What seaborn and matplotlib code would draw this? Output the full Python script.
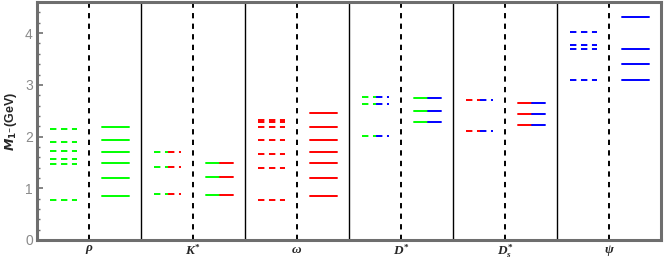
import numpy as np
import pandas as pd
import matplotlib
matplotlib.use("Agg")
import matplotlib.pyplot as plt
import seaborn as sns

# ---- data -------------------------------------------------------------
mesons = [r"$\rho$", r"$K^{*}$", r"$\omega$", r"$D^{*}$", r"$D_{s}^{*}$", r"$\psi$"]
# experimental (dashed, left) and theoretical (solid, right) masses, GeV
rho_exp = [0.775, 1.465, 1.57, 1.72, 1.90, 2.15]
rho_th = [0.85, 1.20, 1.49, 1.71, 1.94, 2.19]
kst_exp = [0.89, 1.41, 1.70]
kst_th = [0.87, 1.22, 1.48]
omega_exp = [0.78, 1.40, 1.66, 1.94, 2.19, 2.28, 2.32]
omega_th = [0.85, 1.20, 1.48, 1.71, 1.94, 2.19, 2.45]
dst_exp = [2.01, 2.62, 2.77]
dst_th = [2.28, 2.50, 2.74]
dsst_exp = [2.11, 2.70]
dsst_th = [2.22, 2.43, 2.65]
psi_exp = [3.097, 3.686, 3.773, 4.03]
psi_th = [3.09, 3.40, 3.69, 4.31]

exp_sets = [rho_exp, kst_exp, omega_exp, dst_exp, dsst_exp, psi_exp]
th_sets = [rho_th, kst_th, omega_th, dst_th, dsst_th, psi_th]
# colour of left half / right half of each level
pair_colors = [("g", "g"), ("g", "r"), ("r", "r"), ("g", "b"), ("r", "b"), ("b", "b")]
palette = {"g": "#00ff00", "r": "#ff0000", "b": "#0000ff"}

# ---- build segments ----------------------------------------------------
rows = []
seg = 0
EXP_X = (0.125, 0.385)
TH_X = (0.625, 0.885)
for i, (ex, th, (c1, c2)) in enumerate(zip(exp_sets, th_sets, pair_colors)):
    for kind, vals, (a, b) in (("exp", ex, EXP_X), ("th", th, TH_X)):
        for v in vals:
            if c1 == c2:
                parts = [(a, b, c1)]
            else:
                m = 0.5 * (a + b)
                parts = [(a, m, c1), (m, b, c2)]
            for (x0, x1, c) in parts:
                rows.append(dict(x=i + x0, y=v, seg=seg, col=c, kind=kind))
                rows.append(dict(x=i + x1, y=v, seg=seg, col=c, kind=kind))
                seg += 1
df = pd.DataFrame(rows)

# ---- style -------------------------------------------------------------
sns.set_theme(style="white")
plt.rcParams["lines.scale_dashes"] = False
plt.rcParams["mathtext.fontset"] = "custom"
plt.rcParams["mathtext.it"] = "Liberation Serif:italic:bold"
plt.rcParams["mathtext.rm"] = "Liberation Serif:bold"
plt.rcParams["mathtext.bf"] = "Liberation Serif:bold"

fig = plt.figure(figsize=(6.64, 2.63), dpi=100)
ax = fig.add_axes([0.0557, 0.0875, 0.9398, 0.9045])

sns.lineplot(data=df, x="x", y="y", units="seg", estimator=None, sort=False,
             hue="col", palette=palette, style="kind",
             dashes={"exp": (4.6, 3.3), "th": ""}, linewidth=1.4,
             legend=False, ax=ax)

n = len(mesons)
for k in range(1, n):
    ax.axvline(k, color="black", lw=1.0, zorder=1)
for k in range(n):
    ax.axvline(k + 0.5, color="black", lw=1.4, ls=(0, (3.8, 3.8)), zorder=1)

ax.set_xlim(0, n)
ax.set_ylim(0, 4.6)
ax.set_xticks(np.arange(n) + 0.5)
ax.set_xticklabels(mesons, fontsize=9.5)
ax.set_yticks([0, 1, 2, 3, 4])
ax.set_yticks(np.arange(0, 4.6, 0.2), minor=True)
ax.tick_params(axis="y", which="major", direction="in", length=4, width=1.2,
               color="#6e6e6e", labelsize=10, labelcolor="#8a8a8a", pad=3,
               left=True)
ax.tick_params(axis="y", which="minor", direction="in", length=2.5, width=1.0,
               color="#6e6e6e", left=True)
ax.tick_params(axis="x", which="both", length=0, pad=2)
for lab in ax.get_yticklabels():
    lab.set_fontfamily("Liberation Sans")
for s in ax.spines.values():
    s.set_color("#6e6e6e")
    s.set_linewidth(2.2)

ax.set_xlabel("")
ax.set_ylabel(r"$\mathbfit{M}_{\mathbf{1^{-}}}$(GeV)", fontsize=9,
              fontweight="bold", family="Liberation Sans",
              math_fontfamily="dejavusans", labelpad=4)

fig.savefig("out.png", dpi=100)
